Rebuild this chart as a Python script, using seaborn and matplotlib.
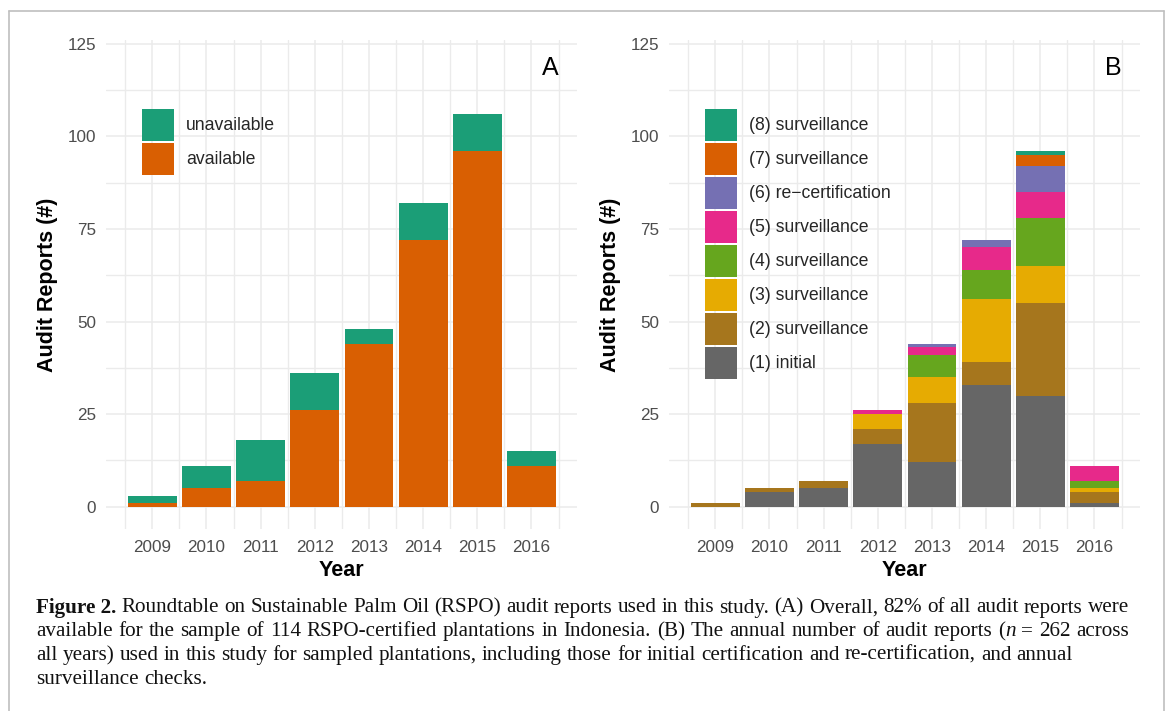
import matplotlib
matplotlib.use("Agg")
import matplotlib.pyplot as plt
import seaborn as sns
import numpy as np
from matplotlib.patches import Patch
from matplotlib.lines import Line2D
from matplotlib.ticker import FixedLocator

# ---------------- data ----------------
years = [2009, 2010, 2011, 2012, 2013, 2014, 2015, 2016]

# Panel A
available = [1, 5, 7, 26, 44, 72, 96, 11]
unavailable = [2, 6, 11, 10, 4, 10, 10, 4]
labels_a = ["unavailable", "available"]

# Panel B (stack order bottom -> top)
initial = [0, 4, 5, 17, 12, 33, 30, 1]
surv2 = [1, 1, 2, 4, 16, 6, 25, 3]
surv3 = [0, 0, 0, 4, 7, 17, 10, 1]
surv4 = [0, 0, 0, 0, 6, 8, 13, 2]
surv5 = [0, 0, 0, 1, 2, 6, 7, 4]
recert6 = [0, 0, 0, 0, 1, 2, 7, 0]
surv7 = [0, 0, 0, 0, 0, 0, 3, 0]
surv8 = [0, 0, 0, 0, 0, 0, 1, 0]
labels_b = ["(1) initial", "(2) surveillance", "(3) surveillance",
            "(4) surveillance", "(5) surveillance", "(6) re\u2212certification",
            "(7) surveillance", "(8) surveillance"]

y_ticks = [0, 25, 50, 75, 100, 125]

caption_lines = [
    [[("Figure 2.", "bold", "normal")], "Roundtable on Sustainable Palm Oil (RSPO) audit reports used in this study. (A) Overall, 82% of all audit reports were"],
    [None, "available for the sample of 114 RSPO-certified plantations in Indonesia. (B) The annual number of audit reports"],
    [None, "all years) used in this study for sampled plantations, including those for initial certification and re-certification, and annual"],
    [None, "surveillance checks."],
]

# ---------------- style ----------------
dark2 = ["#666666", "#A6761D", "#E6AB02", "#66A61E", "#E7298A", "#7570B3", "#D95F02", "#1B9E77"]
col_avail = "#D95F02"
col_unavail = "#1B9E77"

sns.set_style("white")
plt.rcParams["font.family"] = ["Liberation Sans", "DejaVu Sans"]

W, H = 1168, 711
fig = plt.figure(figsize=(W / 100, H / 100), dpi=100)

def px_axes(l, r, t, b):
    return fig.add_axes([l / W, (H - b) / H, (r - l) / W, (b - t) / H])

axA = px_axes(106, 577, 40, 529)
axB = px_axes(669, 1140, 40, 529)

grid_col = "#EBEBEB"

def style_axes(ax):
    ax.set_axisbelow(True)
    ax.set_xlim(2008.145, 2016.84)
    ax.set_ylim(-6, 126)
    ax.xaxis.set_major_locator(FixedLocator(years))
    ax.xaxis.set_minor_locator(FixedLocator([y - 0.5 for y in years] + [years[-1] + 0.5]))
    ax.yaxis.set_major_locator(FixedLocator(y_ticks))
    ax.yaxis.set_minor_locator(FixedLocator([v + 12.5 for v in y_ticks[:-1]]))
    ax.set_xticklabels([str(y) for y in years])
    ax.set_yticklabels([str(v) for v in y_ticks])
    ax.grid(which="major", color=grid_col, lw=1.15)
    ax.grid(which="minor", color=grid_col, lw=1.0)
    for s in ax.spines.values():
        s.set_visible(False)
    ax.tick_params(which="both", length=0)
    ax.tick_params(axis="y", pad=7.3, labelsize=12.3, labelcolor="#4D4D4D")
    ax.tick_params(axis="x", pad=8.0, labelsize=12.3, labelcolor="#4D4D4D")
    ax.set_xlabel("Year", fontsize=15.5, fontweight="bold", labelpad=3.5, color="black")
    ax.set_ylabel("Audit Reports (#)", fontsize=15.5, fontweight="bold", labelpad=7, color="black")

def bar_layer(ax, vals, color):
    sns.barplot(x=years, y=vals, native_scale=True, color=color, width=0.9,
                saturation=1, errorbar=None, linewidth=0, ax=ax)

# Panel A: stacked (draw cumulative totals, top layer first)
tot_a = [a + u for a, u in zip(available, unavailable)]
bar_layer(axA, tot_a, col_unavail)
bar_layer(axA, available, col_avail)

# Panel B
series_b = [initial, surv2, surv3, surv4, surv5, recert6, surv7, surv8]
cum = np.cumsum(np.array(series_b), axis=0)
for i in range(len(series_b) - 1, -1, -1):
    bar_layer(axB, list(cum[i]), dark2[i])

style_axes(axA)
style_axes(axB)

axA.text(2016.35, 118.5, "A", fontsize=18, ha="center", va="center", color="black")
axB.text(2016.35, 118.5, "B", fontsize=18, ha="center", va="center", color="black")

# ---------------- legends ----------------
leg_fs = 12.7                 # points
key_pt = 32 * 72 / 100        # 32 px square keys
pitch_pt = 34 * 72 / 100      # 34 px row pitch
# matplotlib's handle box height is fs*(0.65*hh + 0.245)
hh = (key_pt / leg_fs - 0.245) / 0.65
hl = key_pt / leg_fs
leg_kw = dict(frameon=False, fontsize=leg_fs, handlelength=hl, handleheight=hh,
              labelspacing=(pitch_pt - key_pt) / leg_fs, handletextpad=12 * 0.72 / leg_fs,
              borderpad=0, borderaxespad=0, loc="upper left")

hA = [Patch(facecolor=col_unavail, edgecolor="none"), Patch(facecolor=col_avail, edgecolor="none")]
axA.legend(hA, labels_a, bbox_to_anchor=((142 - 106) / 471, (529 - 108.5) / 489), **leg_kw)

hB = [Patch(facecolor=dark2[i], edgecolor="none") for i in range(7, -1, -1)]
axB.legend(hB, labels_b[::-1], bbox_to_anchor=((705 - 669) / 471, (529 - 108.5) / 489), **leg_kw)

# ---------------- border ----------------
bc = "#BFBFBF"
x0, x1, yt = 9 / W, 1164 / W, 1 - 10.5 / H
fig.add_artist(Line2D([x0, x1], [yt, yt], transform=fig.transFigure, color=bc, lw=1.2))
fig.add_artist(Line2D([x0, x0], [yt, -0.01], transform=fig.transFigure, color=bc, lw=1.2))
fig.add_artist(Line2D([x1, x1], [yt, -0.01], transform=fig.transFigure, color=bc, lw=1.2))

# ---------------- caption ----------------
serif = ["Liberation Serif", "DejaVu Serif"]
renderer = fig.canvas.get_renderer()

def tokenize(prefix, text):
    words = []
    if prefix:
        words.append(prefix)
    for w in text.split(" "):
        words.append([(w, "normal", "normal")])
    return words

lines_tokens = [tokenize(p, t) for p, t in caption_lines]
# line 2 ends with "(n = 262 across"
lines_tokens[1] += [[("(", "normal", "normal"), ("n", "normal", "italic")],
                    [("=", "normal", "normal")], [("262", "normal", "normal")],
                    [("across", "normal", "normal")]]

def piece_width(txt, weight, style, fs):
    t = fig.text(0, 0, txt, fontsize=fs, family=serif, fontweight=weight, fontstyle=style)
    w = t.get_window_extent(renderer).width
    t.remove()
    return w

def word_width(word, fs):
    return sum(piece_width(p, wt, st, fs) for p, wt, st in word)

left_px, right_px = 36, 1129
target = right_px - left_px
fs_ref = 12.0
space_ref = piece_width("a a", "normal", "normal", fs_ref) - 2 * piece_width("a", "normal", "normal", fs_ref)
nat = sum(word_width(w, fs_ref) for w in lines_tokens[0]) + space_ref * (len(lines_tokens[0]) - 1)
cap_fs = fs_ref * target / nat
space_w = space_ref * cap_fs / fs_ref

baselines = [612.5, 636.3, 660.0, 683.8]
justify = [True, True, False, False]
for words, yb, just in zip(lines_tokens, baselines, justify):
    widths = [word_width(w, cap_fs) for w in words]
    gap = (target - sum(widths)) / (len(words) - 1) if just else space_w
    x = left_px
    for w, ww in zip(words, widths):
        xx = x
        for p, wt, st in w:
            fig.text(xx / W, 1 - yb / H, p, fontsize=cap_fs, family=serif,
                     fontweight=wt, fontstyle=st, ha="left", va="baseline", color="#111111")
            xx += piece_width(p, wt, st, cap_fs)
        x += ww + gap

fig.savefig("out.png", dpi=100)
